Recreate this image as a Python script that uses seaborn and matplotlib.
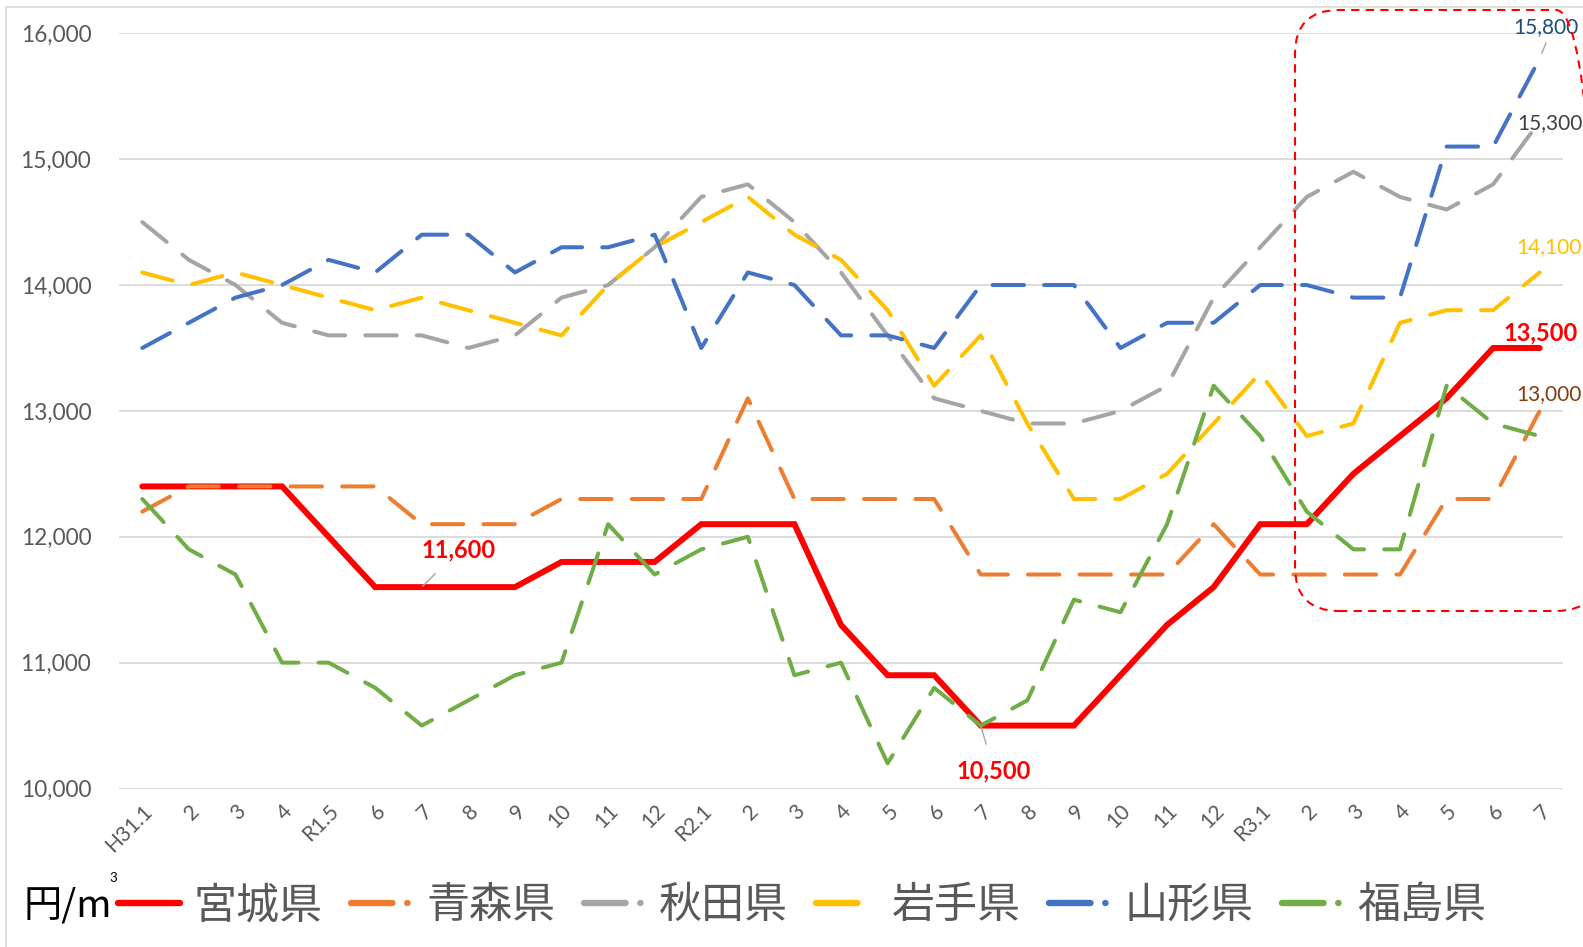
import matplotlib
matplotlib.use("Agg")
import matplotlib.pyplot as plt
import matplotlib.transforms as mtransforms
from matplotlib.patches import FancyBboxPatch, Rectangle
from matplotlib.lines import Line2D
from matplotlib.ticker import FuncFormatter
import seaborn as sns
import pandas as pd

# ---------------- data ----------------
months = ["H31.1", "2", "3", "4", "R1.5", "6", "7", "8", "9", "10", "11", "12",
          "R2.1", "2", "3", "4", "5", "6", "7", "8", "9", "10", "11", "12",
          "R3.1", "2", "3", "4", "5", "6", "7"]

miyagi = [12400, 12400, 12400, 12400, 12000, 11600, 11600, 11600, 11600, 11800, 11800, 11800,
          12100, 12100, 12100, 11300, 10900, 10900, 10500, 10500, 10500, 10900, 11300, 11600,
          12100, 12100, 12500, 12800, 13100, 13500, 13500]
aomori = [12200, 12400, 12400, 12400, 12400, 12400, 12100, 12100, 12100, 12300, 12300, 12300,
          12300, 13100, 12300, 12300, 12300, 12300, 11700, 11700, 11700, 11700, 11700, 12100,
          11700, 11700, 11700, 11700, 12300, 12300, 13000]
akita = [14500, 14200, 14000, 13700, 13600, 13600, 13600, 13500, 13600, 13900, 14000, 14300,
         14700, 14800, 14500, 14100, 13600, 13100, 13000, 12900, 12900, 13000, 13200, 13900,
         14300, 14700, 14900, 14700, 14600, 14800, 15300]
iwate = [14100, 14000, 14100, 14000, 13900, 13800, 13900, 13800, 13700, 13600, 14000, 14300,
         14500, 14700, 14400, 14200, 13800, 13200, 13600, 12900, 12300, 12300, 12500, 12900,
         13300, 12800, 12900, 13700, 13800, 13800, 14100]
yamagata = [13500, 13700, 13900, 14000, 14200, 14100, 14400, 14400, 14100, 14300, 14300, 14400,
            13500, 14100, 14000, 13600, 13600, 13500, 14000, 14000, 14000, 13500, 13700, 13700,
            14000, 14000, 13900, 13900, 15100, 15100, 15800]
fukushima = [12300, 11900, 11700, 11000, 11000, 10800, 10500, 10700, 10900, 11000, 12100, 11700,
             11900, 12000, 10900, 11000, 10200, 10800, 10500, 10700, 11500, 11400, 12100, 13200,
             12800, 12200, 11900, 11900, 13200, 12900, 12800]

series_names = ["宮城県", "青森県", "秋田県", "岩手県", "山形県", "福島県"]
series_values = [miyagi, aomori, akita, iwate, yamagata, fukushima]
series_colors = ["#FF0000", "#ED7D31", "#A5A5A5", "#FFC000", "#4472C4", "#70AD47"]
unit_main = "円/m"
unit_sup = "3"
yticks = [10000, 11000, 12000, 13000, 14000, 15000, 16000]

# ---------------- style ----------------
sns.set_theme(style="white")
plt.rcParams["font.family"] = ["Lato", "Noto Sans CJK JP", "DejaVu Sans"]
CJK = ["Noto Sans CJK JP", "DejaVu Sans"]
TXT = "#595959"

W, H = 1583, 947
fig = plt.figure(figsize=(W / 100, H / 100), dpi=100)
AX_L, AX_R, AX_T, AX_B = 119, 1563, 33.3, 788.5
ax = fig.add_axes([AX_L / W, 1 - AX_B / H, (AX_R - AX_L) / W, (AX_B - AX_T) / H])

df = pd.DataFrame({"x": list(range(len(months)))})
for name, vals in zip(series_names, series_values):
    df[name] = vals

for i, (name, col) in enumerate(zip(series_names, series_colors)):
    if i == 0:
        sns.lineplot(data=df, x="x", y=name, color=col, linewidth=4.3, ax=ax,
                     solid_joinstyle="miter", zorder=3)
    else:
        sns.lineplot(data=df, x="x", y=name, color=col, linewidth=2.9, ax=ax,
                     linestyle=(0, (7.8, 5.0)), dash_capstyle="round",
                     dash_joinstyle="round", zorder=3 + i)

ax.set_xlim(-0.5, len(months) - 0.5)
ax.set_ylim(10000, 16000)
ax.set_yticks(yticks)
ax.yaxis.set_major_formatter(FuncFormatter(lambda v, p: f"{int(v):,}"))
ax.set_xticks(range(len(months)))
ax.set_xticklabels(months, rotation=45, ha="right", rotation_mode="anchor")
ax.tick_params(axis="y", length=0, pad=20, labelsize=16.3, labelcolor=TXT)
ax.tick_params(axis="x", length=0, pad=9, labelsize=15, labelcolor=TXT)
ax.set_xlabel("")
ax.set_ylabel("")
ax.grid(axis="y", color="#D9D9D9", linewidth=1.3)
ax.grid(axis="x", visible=False)
for s in ax.spines.values():
    s.set_visible(False)

# ---------------- data labels ----------------
def lab(text, xy, xytext_px, color, bold=False, size=16, leader=True, ha="center"):
    xt = xytext_px[0] / W
    yt = 1 - xytext_px[1] / H
    ax.annotate(text, xy=xy, xycoords="data", xytext=(xt, yt), textcoords="figure fraction",
                ha=ha, va="center", color=color, fontsize=size,
                fontweight="bold" if bold else "normal", annotation_clip=False,
                arrowprops=dict(arrowstyle="-", color="#A6A6A6", lw=1.0, shrinkA=9, shrinkB=1)
                if leader else None, zorder=20)

lab("11,600", (6, 11600), (459, 550), "#FF0000", bold=True, size=17)
lab("10,500", (18, 10500), (994, 771), "#FF0000", bold=True, size=17)
lab("13,500", (30, 13500), (1503, 333), "#FF0000", bold=True, size=17, leader=False, ha="left")
lab("15,800", (30, 15800), (1513, 27), "#1F4E79", size=15, leader=False, ha="left")
ax.annotate("", xy=(30, 15800), xycoords="data", xytext=(1546 / W, 1 - 43 / H),
            textcoords="figure fraction", annotation_clip=False,
            arrowprops=dict(arrowstyle="-", color="#A6A6A6", lw=1.0, shrinkA=0, shrinkB=4))
lab("15,300", (30, 15300), (1517, 123), "#404040", size=15, leader=False, ha="left")
lab("14,100", (30, 14100), (1516, 247), "#FFC000", size=15, leader=False, ha="left")
lab("13,000", (30, 13000), (1516, 394), "#843C0C", size=15, leader=False, ha="left")

# ---------------- highlight box (pixel coords) ----------------
ident = mtransforms.IdentityTransform()
bx0, bx1, by0, by1 = 1295, 1600, 10, 611
box = FancyBboxPatch((bx0, H - by1), bx1 - bx0, by1 - by0,
                     boxstyle="round,pad=0,rounding_size=44",
                     transform=ident, fill=False, edgecolor="#FF0000",
                     linewidth=1.5, linestyle=(0, (4, 3)), zorder=30)
fig.add_artist(box)

# chart outer border
frame = Rectangle((6, -10), W + 20, H - 7 + 10, transform=ident, fill=False,
                  edgecolor="#D9D9D9", linewidth=1.2, zorder=0)
fig.add_artist(frame)

# ---------------- legend ----------------
handles = []
for i, col in enumerate(series_colors):
    if i == 0:
        handles.append(Line2D([0], [0], color=col, lw=4.6, solid_capstyle="round"))
    elif i == 3:
        handles.append(Line2D([0], [0], color=col, lw=4.6, dash_capstyle="round",
                              linestyle=(0, (6.5, 10))))
    else:
        handles.append(Line2D([0], [0], color=col, lw=4.6, dash_capstyle="round",
                              linestyle=(0, (6.5, 2.3, 0.05, 3))))
leg = fig.legend(handles, series_names, loc="center left",
                 bbox_to_anchor=(118 / W, 1 - 906 / H), ncol=6, frameon=False,
                 prop={"family": CJK, "size": 31}, handlelength=1.45, handletextpad=0.3,
                 columnspacing=0.66, borderpad=0, borderaxespad=0)
for t in leg.get_texts():
    t.set_color(TXT)
fig.text(24 / W, 1 - 906 / H, unit_main, family=CJK, fontsize=27.5, color="#000000",
         ha="left", va="center")
fig.text(109 / W, 1 - 878 / H, unit_sup, family="Lato", fontsize=9.5, color="#000000",
         ha="left", va="center")

fig.savefig("out.png", dpi=100)
